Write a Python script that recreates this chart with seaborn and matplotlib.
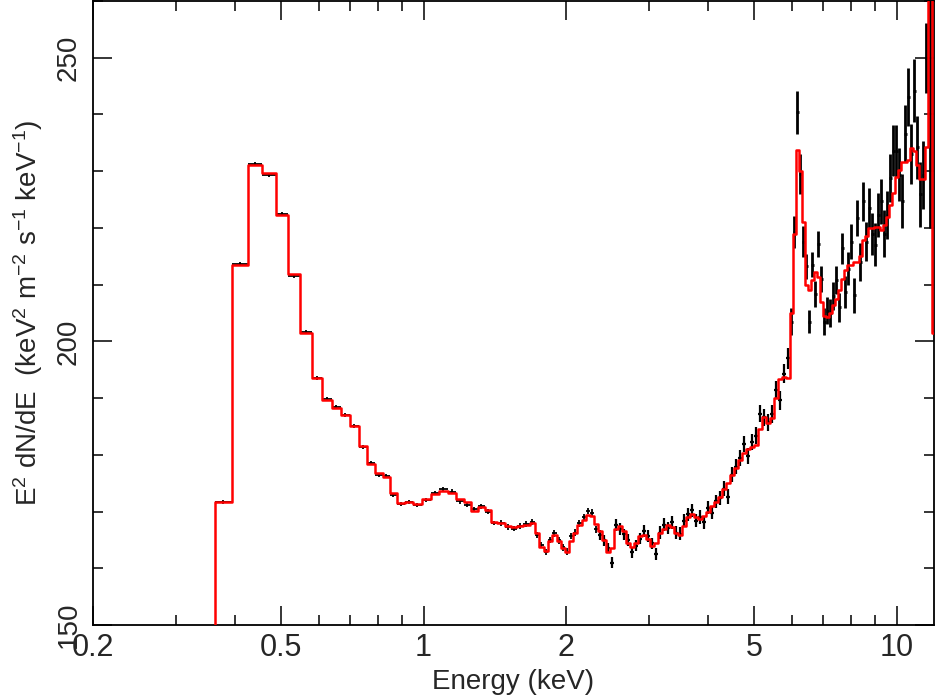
import numpy as np
import matplotlib
matplotlib.use("Agg")
import matplotlib.pyplot as plt
from matplotlib.ticker import FixedLocator, FixedFormatter, MultipleLocator, NullFormatter
import seaborn as sns

nan = np.nan

# --- soft band: wide channels (keV edges), model, data, 1-sigma errors ---
edges_soft = [0.330, 0.3614, 0.3927, 0.4245, 0.4545, 0.4865, 0.5160, 0.5469, 0.5798, 0.6086,
              0.6389, 0.6677, 0.6973, 0.7285, 0.7576, 0.7878, 0.8190, 0.8473, 0.8768, 0.9116,
              0.9478, 0.9903, 1.0346, 1.0758, 1.1238, 1.1688, 1.2151, 1.2572, 1.3006, 1.3456,
              1.3854, 1.4264, 1.4830, 1.5270, 1.5725, 1.6193, 1.6754, 1.7168, 1.7505, 1.7937,
              1.8290, 1.8650, 1.9109, 1.9486, 1.9870, 2.0262, 2.0655, 2.1061, 2.1580, 2.2004,
              2.2439, 2.2879, 2.333]
model_soft = [120.0, 171.6, 213.4, 231.1, 229.6, 222.3, 211.8, 201.5, 193.6, 189.7, 188.3,
              187.1, 185.0, 181.6, 178.4, 176.8, 176.1, 173.3, 171.5, 171.6, 171.3,
              172.2, 173.1, 173.7, 173.3, 172.2, 171.6, 170.1, 170.8, 170.2, 168.2,
              167.9, 167.5, 167.2, 167.4, 167.7, 167.9, 166.3, 163.8, 163.1, 164.8,
              165.8, 164.8, 163.5, 162.9, 164.8, 166.3, 167.7, 168.5, 169.4, 169.2,
              167.8]
flux_soft = [nan, 171.7, 213.6, 231.3, 229.3, 222.5, 211.6, 201.6, 193.5, 189.9, 188.4,
             187.0, 185.1, 181.4, 178.6, 176.5, 176.3, 173.0, 171.3, 171.7, 171.1,
             172.0, 173.3, 173.9, 173.5, 171.8, 171.2, 170.4, 170.9, 170.0, 168.0,
             168.0, 167.3, 167.0, 167.5, 167.8, 168.1, 165.9, 164.1, 162.9, 165.0,
             166.2, 164.9, 163.7, 162.9, 165.7, 166.3, 167.9, 169.0, 170.1, 169.8,
             166.9]
err_soft = [nan] + [0.35] * 20 + [0.4] * 10 + [0.5] * 10 + [0.6] * 11

# --- 2.3 - 6 keV ---
edges_mid = [2.378, 2.425, 2.474, 2.522, 2.572, 2.623, 2.674, 2.727, 2.780, 2.835,
             2.891, 2.947, 3.005, 3.064, 3.124, 3.186, 3.248, 3.312, 3.377, 3.443,
             3.511, 3.580, 3.650, 3.722, 3.795, 3.870, 3.946, 4.024, 4.103, 4.183,
             4.266, 4.349, 4.435, 4.522, 4.611, 4.702, 4.794, 4.889, 4.985, 5.083,
             5.183, 5.284, 5.388, 5.495, 5.603, 5.713, 5.825, 5.940]
model_mid = [166.5, 165.0, 162.8, 163.5, 167.0, 167.5, 166.5, 164.5, 163.8, 164.5,
             165.7, 165.9, 165.2, 163.9, 164.5, 166.2, 167.0, 167.6, 167.3, 166.3,
             165.8, 167.5, 169.0, 169.5, 169.0, 168.7, 169.3, 169.9, 171.0, 171.6,
             172.6, 173.9, 175.0, 176.5, 177.6, 179.0, 180.4, 181.0, 181.4, 181.8,
             184.5, 186.7, 185.6, 186.5, 190.0, 193.4, 193.7, 193.5]
flux_mid = [165.9, 164.9, 163.6, 161.0, 167.6, 166.9, 166.0, 165.0, 162.8, 164.0,
            165.2, 166.6, 165.7, 164.4, 162.5, 166.3, 167.7, 167.1, 168.1, 166.3,
            166.1, 168.4, 169.5, 170.2, 168.4, 169.0, 168.1, 170.7, 169.8, 171.8,
            172.4, 174.0, 172.6, 176.5, 177.9, 179.5, 181.9, 179.8, 182.3, 183.4,
            187.2, 186.6, 185.7, 187.2, 191.5, 189.6, 194.3, 197.0]
err_mid = [0.9, 0.9, 0.9, 1.0, 1.0, 1.0, 1.0, 1.0, 1.0, 1.0,
           1.0, 1.0, 1.0, 1.0, 1.0, 1.1, 1.1, 1.1, 1.1, 1.1,
           1.1, 1.1, 1.1, 1.2, 1.2, 1.2, 1.2, 1.2, 1.2, 1.2,
           1.3, 1.3, 1.3, 1.3, 1.3, 1.4, 1.4, 1.4, 1.4, 1.5,
           1.5, 1.5, 1.5, 1.6, 1.6, 1.7, 1.7, 1.8]

# --- Fe K region and above ---
edges_hard = [6.027, 6.116, 6.205, 6.296, 6.389, 6.483, 6.578, 6.675, 6.773, 6.872,
              6.974, 7.076, 7.180, 7.286, 7.393, 7.502, 7.612, 7.724, 7.838, 7.953,
              8.070, 8.189, 8.309, 8.431, 8.555, 8.681, 8.809, 8.938, 9.070, 9.203,
              9.342, 9.478, 9.618, 9.759, 9.903, 10.049, 10.197, 10.347, 10.499, 10.654,
              10.810, 10.970, 11.131, 11.295, 11.461, 11.66, 11.86, 12.6]
model_hard = [205.0, 219.0, 233.8, 230.0, 221.0, 210.0, 209.0, 210.8, 212.3, 211.4,
              207.0, 204.5, 204.3, 205.0, 206.4, 207.5, 209.0, 211.0, 212.5, 213.4,
              213.4, 214.0, 214.0, 215.0, 217.8, 218.5, 219.9, 219.9, 220.2, 220.2,
              219.7, 220.5, 222.0, 224.0, 226.1, 229.0, 230.2, 231.7, 231.7, 232.0,
              234.0, 233.5, 231.0, 228.7, 228.7, 234.3, 290.0, 201.5]
flux_hard = [203.5, 219.3, 240.4, 229.5, 217.6, 213.2, 203.5, 213.5, 208.4, 217.1,
             211.0, 203.5, 205.4, 205.0, 208.0, 210.8, 206.0, 216.4, 208.7, 212.8,
             217.6, 208.1, 221.8, 214.0, 224.7, 217.6, 223.5, 219.0, 217.0, 222.3,
             224.7, 219.0, 222.3, 228.8, 233.6, 233.6, 229.4, 224.7, 236.6, 243.1,
             233.0, 244.2, 234.2, 225.9, 229.4, 250.0, 262.0, nan]
err_hard = [2.3, 2.8, 3.8, 3.5, 2.8, 2.2, 2.1, 2.2, 2.3, 2.3,
            2.3, 2.3, 2.4, 2.4, 2.5, 2.5, 2.6, 2.7, 2.8, 2.9,
            3.0, 3.1, 3.2, 3.3, 3.4, 3.5, 3.6, 3.7, 3.8, 3.9,
            4.0, 4.1, 4.2, 4.3, 4.5, 4.6, 4.7, 4.8, 5.0, 5.1,
            5.3, 5.5, 5.6, 5.8, 6.0, 6.2, 42.0, nan]

x_ticks = [0.2, 0.5, 1, 2, 5, 10]
x_ticklabels = ["0.2", "0.5", "1", "2", "5", "10"]
x_minor = [0.3, 0.4, 0.6, 0.7, 0.8, 0.9, 3, 4, 6, 7, 8, 9]

sns.set_style("ticks")
plt.rcParams["font.family"] = ["Liberation Sans", "DejaVu Sans"]
plt.rcParams["mathtext.default"] = "regular"

edges = np.array(edges_soft + edges_mid + edges_hard)
model = np.array(model_soft + model_mid + model_hard)
flux = np.array(flux_soft + flux_mid + flux_hard)
err = np.array(err_soft + err_mid + err_hard)
# line width of the data crosses per band (denser channels look heavier)
lw = np.array([1.3] * len(model_soft) + [1.6] * len(model_mid) + [2.0] * len(model_hard))

lo, hi = edges[:-1], edges[1:]
cen = np.sqrt(lo * hi)

fig = plt.figure(figsize=(9.36, 6.96), dpi=100)
ax = fig.add_axes([0.0994, 0.102, 0.8985, 0.8966])
ax.set_xscale("log")

# data: channel width horizontally, 1 sigma vertically
for w in np.unique(lw):
    ok = ~np.isnan(flux) & (lw == w)
    ax.errorbar(cen[ok], flux[ok],
                xerr=[cen[ok] - lo[ok], hi[ok] - cen[ok]], yerr=err[ok],
                fmt="none", ecolor="black", elinewidth=w, zorder=2)

# folded model drawn as a histogram
sns.lineplot(x=edges, y=np.append(model, model[-1]), drawstyle="steps-post",
             color="red", linewidth=1.8, sort=False, estimator=None, ax=ax, zorder=3)

ax.set_xlim(0.2, 12.0)
ax.set_ylim(150, 260)

ax.xaxis.set_major_locator(FixedLocator(x_ticks))
ax.xaxis.set_major_formatter(FixedFormatter(x_ticklabels))
ax.xaxis.set_minor_locator(FixedLocator(x_minor))
ax.xaxis.set_minor_formatter(NullFormatter())
ax.yaxis.set_major_locator(MultipleLocator(50))
ax.yaxis.set_minor_locator(MultipleLocator(10))

ax.tick_params(which="both", direction="in", top=True, right=True, width=1.1, color="black")
ax.tick_params(which="major", length=14)
ax.tick_params(which="minor", length=7)
ax.tick_params(axis="x", labelsize=22, pad=6)
ax.tick_params(axis="y", labelsize=20, pad=8, labelrotation=90)
for lbl in ax.get_yticklabels():
    lbl.set_va("center")

for sp in ax.spines.values():
    sp.set_linewidth(1.3)
    sp.set_color("black")

ax.set_xlabel("Energy (keV)", fontsize=20, labelpad=4)
ax.set_ylabel(r"E$^{2}$ dN/dE  (keV$^{2}$ m$^{-2}$ s$^{-1}$ keV$^{-1}$)", fontsize=20, labelpad=8)

fig.savefig("out.png", dpi=100)
